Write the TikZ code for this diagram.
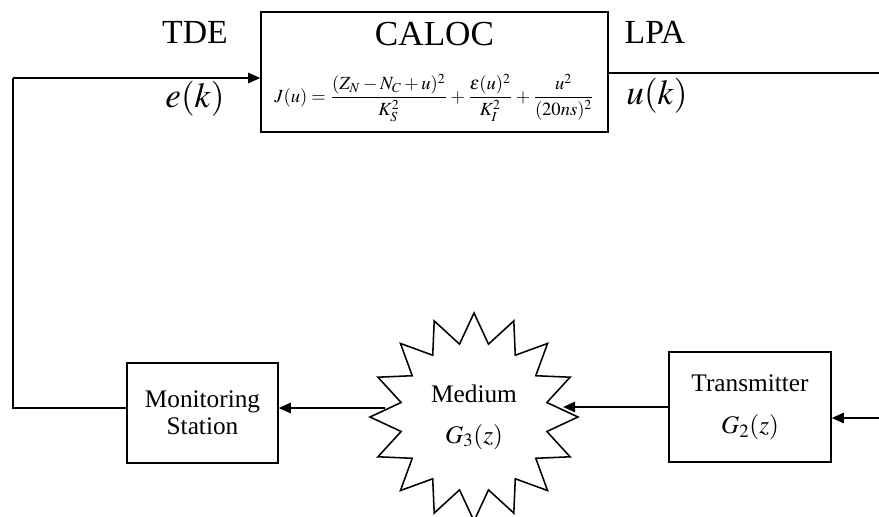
\documentclass[tikz,border=0pt]{standalone}
\usepackage{mathptmx}
\usepackage{graphicx}
\usepackage{fontspec}
\setmainfont{Liberation Serif}
\usetikzlibrary{arrows.meta,shapes.geometric}

\begin{document}
\begin{tikzpicture}[
 blk/.style={draw,line width=1.1pt,align=center,font=\fontsize{18}{19}\selectfont},
 burst/.style={star,star points=16,star point ratio=1.4,minimum size=5.2cm,inner sep=0pt,draw,line width=1.1pt,align=center,font=\fontsize{18}{19}\selectfont},
 sig/.style={font=\fontsize{24}{26}\selectfont},
 ln/.style={line width=1.1pt},
 arr/.style={line width=1.1pt,-{Triangle[length=3mm,width=2.6mm]}}
]
\useasboundingbox (0,0) rectangle (21.975,12.9);
% controller block
\node[draw,line width=1.1pt,minimum width=8.675cm,minimum height=3cm] (cal) at (10.8625,11.1) {};
\node[font=\fontsize{25}{28}\selectfont] (caltitle) at (10.8625,12.05) {CALOC};
\node (costfn) at (10.8625,10.45) {\resizebox{8cm}{!}{$\displaystyle J(u)=\frac{(Z_N-N_C+u)^2}{K_S^2}+\frac{\varepsilon(u)^2}{K_I^2}+\frac{u^2}{(20ns)^2}$}};
% signal labels
\node[sig] (tde) at (4.875,12.1) {TDE};
\node[sig,font=\fontsize{25}{26}\selectfont] (err) at (4.875,10.42) {$e(k)$};
\node[sig] (lpa) at (16.375,12.1) {LPA};
\node[sig,font=\fontsize{25}{26}\selectfont] (ctl) at (16.425,10.5) {$u(k)$};
% loop blocks
\node[blk,minimum width=3.775cm,minimum height=2.5cm] (ms) at (5.0625,2.575) {Monitoring\\Station};
\node[burst] (med) at (11.85,2.475) {Medium\\[10pt]$G_3(z)$};
\node[blk,minimum width=4.05cm,minimum height=2.75cm] (tx) at (18.75,2.725) {Transmitter\\[11pt]$G_2(z)$};
% loop corners
\coordinate (tl) at (0.325,10.95);
\coordinate (bl) at (0.325,2.7);
\coordinate (tr) at (21.975,11.075);
\coordinate (br) at (21.975,2.45);
\draw[ln] (ms.west |- bl) -- (bl) -- (tl);
\draw[arr] (tl) -- (tl -| cal.west);
\draw[ln] (cal.east |- tr) -- (tr);
\draw[arr] (br) -- (br -| tx.east);
\draw[arr] (tx.west) -- (tx.west -| med.5);
\draw[arr] (med.175 |- bl) -- (ms.east |- bl);
\end{tikzpicture}
\end{document}
